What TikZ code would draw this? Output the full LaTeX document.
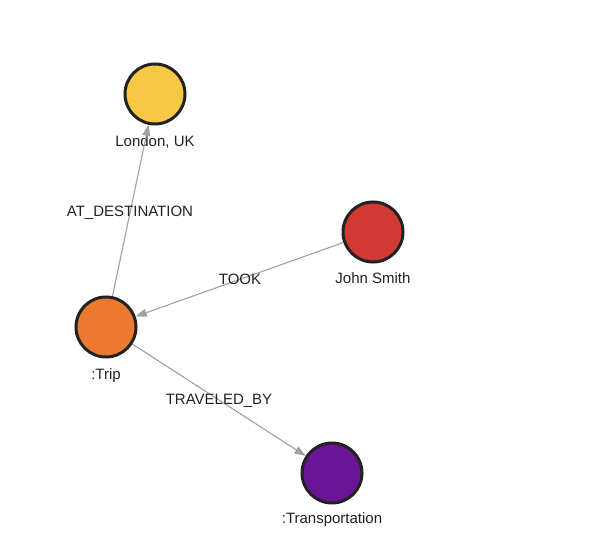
\documentclass[tikz,border=0pt]{standalone}
\usepackage{fontspec}
\setmainfont{Liberation Sans}
\usetikzlibrary{arrows.meta}
\definecolor{cyellow}{HTML}{F6C846}
\definecolor{cred}{HTML}{D03A32}
\definecolor{corange}{HTML}{EC7A2E}
\definecolor{cpurple}{HTML}{6A1598}
\definecolor{cborder}{HTML}{222222}
\definecolor{cedge}{HTML}{A0A0A0}
\definecolor{ctext}{HTML}{222222}
\tikzset{
  gnode/.style={circle, draw=cborder, line width=3pt, minimum size=60pt, inner sep=0pt},
  glabel/.style={anchor=base, font=\fontsize{15}{17}\selectfont, text=ctext, inner sep=0pt},
  edge/.style={draw=cedge, line width=1.1pt, -{Triangle[length=11pt,width=8pt]}},
}
\begin{document}
\begin{tikzpicture}[x=1pt,y=-1pt]
\useasboundingbox[fill=white] (0,0) rectangle (592,548);
\node[gnode, fill=cyellow] (london) at (155,94) {};
\node[gnode, fill=cred] (john) at (373,232) {};
\node[gnode, fill=corange] (trip) at (106,327) {};
\node[gnode, fill=cpurple] (transp) at (332,473) {};
\node[glabel] (llondon) at (155,146.5) {London, UK};
\node[glabel] (ljohn) at (373,283.5) {John Smith};
\node[glabel] (ltrip) at (106,379) {:Trip};
\node[glabel] (ltransp) at (332,523) {:Transportation};
\draw[edge] (trip) -- (london);
\draw[edge] (john) -- (trip);
\draw[edge] (trip) -- (transp);
\node[glabel] (lat) at (130,216.5) {AT\_DESTINATION};
\node[glabel] (ltook) at (240,285) {TOOK};
\node[glabel] (ltrav) at (219,404) {TRAVELED\_BY};
\end{tikzpicture}
\end{document}
